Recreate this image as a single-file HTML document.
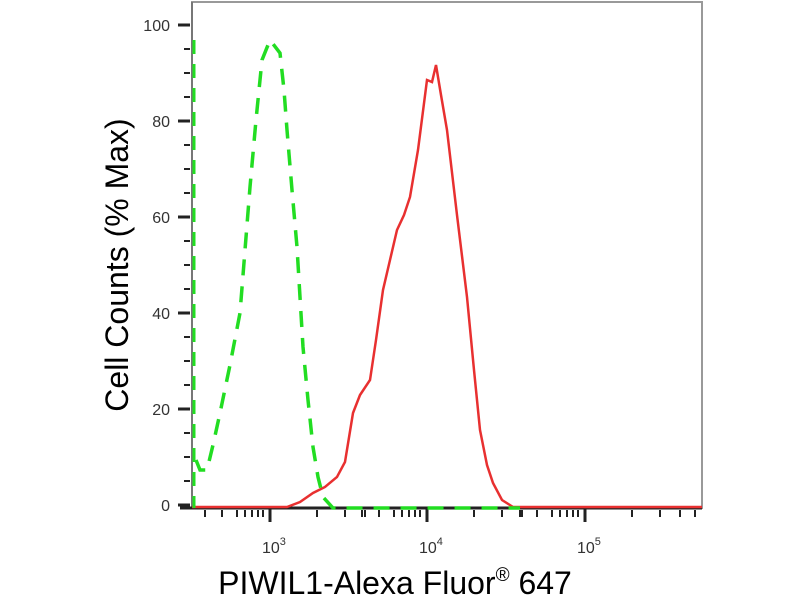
<!DOCTYPE html>
<html><head><style>body{margin:0;background:#fff}</style></head><body>
<svg width="800" height="600" xmlns="http://www.w3.org/2000/svg" font-family="Liberation Sans, sans-serif">
<rect width="800" height="600" fill="#fff"/>
<rect x="192" y="2" width="510" height="506" fill="none" stroke="#999" stroke-width="2"/>
<line x1="192" y1="2" x2="192" y2="508" stroke="#777" stroke-width="2"/>
<g stroke="#222" stroke-width="2">
<line x1="180" y1="508" x2="702" y2="508" stroke-width="3"/>
<line x1="178" y1="25" x2="190" y2="25" stroke-width="3"/>
<line x1="178" y1="121" x2="190" y2="121" stroke-width="3"/>
<line x1="178" y1="217" x2="190" y2="217" stroke-width="3"/>
<line x1="178" y1="313" x2="190" y2="313" stroke-width="3"/>
<line x1="178" y1="409" x2="190" y2="409" stroke-width="3"/>
<line x1="178" y1="505" x2="190" y2="505" stroke-width="3"/>
<line x1="184" y1="49" x2="190" y2="49"/><line x1="184" y1="73" x2="190" y2="73"/><line x1="184" y1="97" x2="190" y2="97"/>
<line x1="184" y1="145" x2="190" y2="145"/><line x1="184" y1="169" x2="190" y2="169"/><line x1="184" y1="193" x2="190" y2="193"/>
<line x1="184" y1="241" x2="190" y2="241"/><line x1="184" y1="265" x2="190" y2="265"/><line x1="184" y1="289" x2="190" y2="289"/>
<line x1="184" y1="337" x2="190" y2="337"/><line x1="184" y1="361" x2="190" y2="361"/><line x1="184" y1="385" x2="190" y2="385"/>
<line x1="184" y1="433" x2="190" y2="433"/><line x1="184" y1="457" x2="190" y2="457"/><line x1="184" y1="481" x2="190" y2="481"/>
<line x1="270" y1="508" x2="270" y2="522" stroke-width="3"/>
<line x1="427" y1="508" x2="427" y2="522" stroke-width="3"/>
<line x1="585" y1="508" x2="585" y2="522" stroke-width="3"/>
<g id="m"><line x1="205" y1="510" x2="205" y2="517"/><line x1="222" y1="510" x2="222" y2="517"/><line x1="237" y1="510" x2="237" y2="517"/><line x1="245" y1="510" x2="245" y2="517"/><line x1="252" y1="510" x2="252" y2="517"/><line x1="258" y1="510" x2="258" y2="517"/><line x1="263" y1="510" x2="263" y2="517"/></g>
<use href="#m" x="157"/><use href="#m" x="315"/>
<line x1="317" y1="510" x2="317" y2="517"/><line x1="345" y1="510" x2="345" y2="517"/><line x1="365" y1="510" x2="365" y2="517"/>
<line x1="474" y1="510" x2="474" y2="517"/><line x1="502" y1="510" x2="502" y2="517"/><line x1="522" y1="510" x2="522" y2="517"/>
<line x1="632" y1="510" x2="632" y2="517"/><line x1="660" y1="510" x2="660" y2="517"/><line x1="680" y1="510" x2="680" y2="517"/><line x1="695" y1="510" x2="695" y2="517"/>
</g>
<g font-size="16" fill="#333" text-anchor="end">
<text x="170" y="31">100</text><text x="170" y="127">80</text><text x="170" y="223">60</text><text x="170" y="319">40</text><text x="170" y="415">20</text><text x="170" y="511">0</text>
</g>
<g font-size="16" fill="#333">
<text x="262" y="553">10<tspan font-size="11" dy="-8">3</tspan></text>
<text x="419" y="553">10<tspan font-size="11" dy="-8">4</tspan></text>
<text x="577" y="553">10<tspan font-size="11" dy="-8">5</tspan></text>
</g>
<text transform="translate(128,265) rotate(-90)" font-size="32" text-anchor="middle">Cell Counts (% Max)</text>
<text x="395" y="594" font-size="32" text-anchor="middle">PIWIL1-Alexa Fluor<tspan font-size="19" dy="-13">®</tspan><tspan dy="13"> 647</tspan></text>
<polyline fill="none" stroke="#e83030" stroke-width="2.5" points="192,507 287,507 300,502 313,493 325,487 337,477 345,462 353,413 360,395 370,380 376,340 383,290 390,260 397,230 404,215 410,197 418,150 427,80 432,82 436,65 441,95 447,130 457,215 467,297 474,370 480,430 487,465 493,483 502,500 513,507 702,507"/>
<polyline fill="none" stroke="#22dd22" stroke-width="3" stroke-dasharray="14,10" points="194,40 194,508"/>
<polyline fill="none" stroke="#22dd22" stroke-width="3.5" stroke-dasharray="16,11" points="196,460 200,470 207,470 213,445 220,413 230,365 240,313 245,250 250,187 256,120 262,60 270,40 280,53 284,90 287,130 292,190 297,247 303,347 308,400 313,447 318,477 323,497 333,508 520,508"/>
</svg>
</body></html>
